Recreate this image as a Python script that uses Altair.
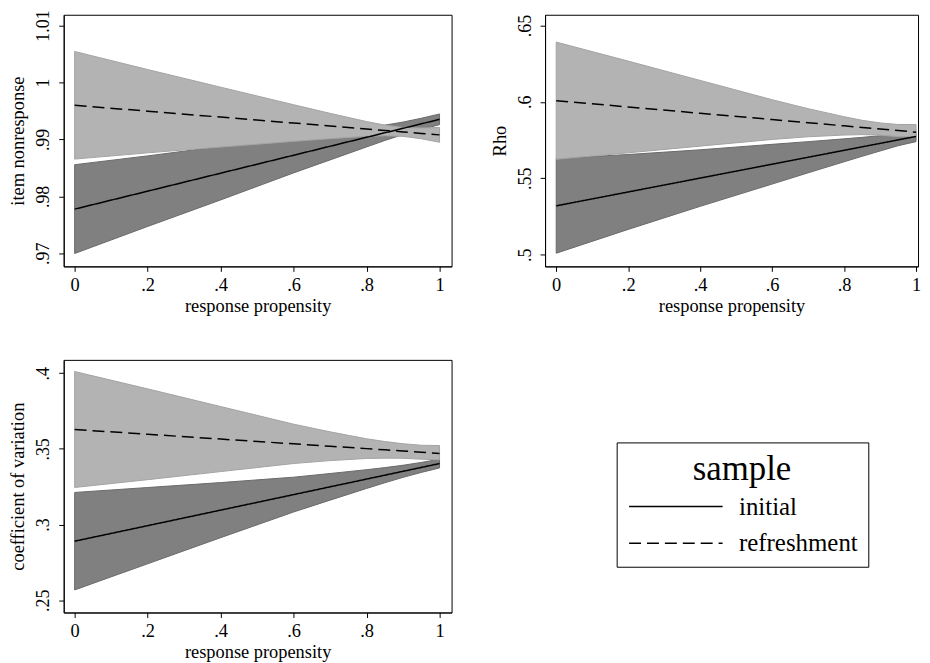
import altair as alt
import pandas as pd

# ---------------- data ----------------
x_vals = [0, 0.2, 0.4, 0.6, 0.7, 0.8, 0.85, 0.9, 0.95, 1]
samples = ["initial", "refreshment"]
x_ticks = [0, 0.2, 0.4, 0.6, 0.8, 1]

p1_title = "item nonresponse"
p1_y_ticks = [0.97, 0.98, 0.99, 1.0, 1.01]
p1_init_mean = [0.97776, 0.98091, 0.98407, 0.98722, 0.98880, 0.99038, 0.99116, 0.99195, 0.99274, 0.99353]
p1_init_lo = [0.96996, 0.97471, 0.97937, 0.98412, 0.98640, 0.98868, 0.98981, 0.99085, 0.99176, 0.99259]
p1_init_hi = [0.98556, 0.98711, 0.98877, 0.99032, 0.99120, 0.99208, 0.99251, 0.99305, 0.99372, 0.99447]
p1_ref_mean = [0.99600, 0.99496, 0.99392, 0.99288, 0.99236, 0.99184, 0.99158, 0.99132, 0.99106, 0.99080]
p1_ref_lo = [0.98655, 0.98764, 0.98866, 0.98966, 0.99014, 0.99054, 0.99064, 0.99054, 0.99012, 0.98950]
p1_ref_hi = [1.00545, 1.00228, 0.99918, 0.99610, 0.99458, 0.99314, 0.99252, 0.99210, 0.99200, 0.99210]

p2_title = "Rho"
p2_y_ticks = [0.5, 0.55, 0.6, 0.65]
p2_init_mean = [0.5320, 0.54108, 0.55016, 0.55924, 0.56378, 0.56832, 0.57059, 0.57286, 0.57513, 0.5774]
p2_init_lo = [0.5010, 0.51658, 0.53166, 0.54624, 0.55358, 0.56082, 0.56439, 0.56786, 0.57133, 0.5740]
p2_init_hi = [0.5630, 0.56558, 0.56866, 0.57224, 0.57398, 0.57582, 0.57679, 0.57786, 0.57893, 0.5810]
p2_ref_mean = [0.6008, 0.59668, 0.59256, 0.58844, 0.58638, 0.58432, 0.58329, 0.58226, 0.58123, 0.5802]
p2_ref_lo = [0.5625, 0.56668, 0.57106, 0.57544, 0.57718, 0.57832, 0.57859, 0.57826, 0.57730, 0.5772]
p2_ref_hi = [0.6391, 0.62668, 0.61406, 0.60144, 0.59558, 0.59032, 0.58799, 0.58626, 0.58523, 0.5852]

p3_title = "coefficient of variation"
p3_y_ticks = [0.25, 0.3, 0.35, 0.4]
p3_init_mean = [0.2890, 0.29926, 0.30952, 0.31978, 0.32491, 0.33004, 0.33261, 0.33517, 0.33774, 0.3403]
p3_init_lo = [0.2568, 0.27406, 0.29132, 0.30828, 0.31611, 0.32384, 0.32761, 0.33117, 0.33444, 0.3374]
p3_init_hi = [0.3212, 0.32446, 0.32772, 0.33128, 0.33371, 0.33624, 0.33761, 0.33917, 0.34104, 0.3432]
p3_ref_mean = [0.3628, 0.35964, 0.35648, 0.35332, 0.35174, 0.35016, 0.34937, 0.34858, 0.34779, 0.3470]
p3_ref_lo = [0.3245, 0.32964, 0.33498, 0.34032, 0.34224, 0.34366, 0.34387, 0.34378, 0.34319, 0.3428]
p3_ref_hi = [0.4011, 0.38964, 0.37798, 0.36632, 0.36124, 0.35666, 0.35487, 0.35338, 0.35239, 0.3522]

x_title = "response propensity"
legend_title = "sample"

FONT = "Liberation Serif"
LIGHT_FILL, LIGHT_EDGE = "#b3b3b3", "#a3a3a3"
DARK_FILL, DARK_EDGE = "#808080", "#6a6a6a"

LABEL_EXPR = "replace(format(datum.value, '.3~g'), '0.', '.')"

legend = alt.Legend(
    title=legend_title, orient="none", legendX=556, legendY=430,
    direction="vertical",
    symbolType="M-1,0H8.4", symbolSize=400, symbolStrokeWidth=1.5,
    symbolStrokeColor="black", symbolFillColor="transparent",
    labelFont=FONT, labelFontSize=25, labelColor="black", labelOffset=88,
    titleFont=FONT, titleFontSize=35, titleFontWeight="normal", titleColor="black",
    titleAnchor="middle", titlePadding=7, rowPadding=11, padding=10,
    strokeColor="black", fillColor="white",
)


def make_df(mean_i, lo_i, hi_i, mean_r, lo_r, hi_r):
    rows = []
    for k, x in enumerate(x_vals):
        rows.append({"x": x, "sample": samples[0], "mean": mean_i[k], "lo": lo_i[k], "hi": hi_i[k]})
    for k, x in enumerate(x_vals):
        rows.append({"x": x, "sample": samples[1], "mean": mean_r[k], "lo": lo_r[k], "hi": hi_r[k]})
    return pd.DataFrame(rows)


def panel(df, ytitle, yticks, ydomain, xdomain, width, height):
    xenc = alt.X("x:Q", scale=alt.Scale(domain=xdomain, nice=False, zero=False),
                 axis=alt.Axis(values=x_ticks, labelExpr=LABEL_EXPR, title=x_title))
    yaxis = alt.Axis(values=yticks, labelExpr=LABEL_EXPR, title=ytitle,
                     labelAngle=-90, labelAlign="center", labelBaseline="bottom",
                     labelFontSize=18, labelPadding=6, titlePadding=7)
    yscale = alt.Scale(domain=ydomain, nice=False, zero=False)
    base = alt.Chart(df)
    dark = base.transform_filter(alt.datum.sample == samples[0]).mark_area(
        fill=DARK_FILL, stroke=DARK_EDGE, strokeWidth=1, opacity=1
    ).encode(x=xenc, y=alt.Y("lo:Q", scale=yscale, axis=yaxis), y2="hi:Q")
    light = base.transform_filter(alt.datum.sample == samples[1]).mark_area(
        fill=LIGHT_FILL, stroke=LIGHT_EDGE, strokeWidth=1, opacity=1
    ).encode(x=xenc, y=alt.Y("lo:Q", scale=yscale, axis=yaxis), y2="hi:Q")
    lines = base.mark_line(color="black", strokeWidth=1.5).encode(
        x=xenc,
        y=alt.Y("mean:Q", scale=yscale, axis=yaxis),
        strokeDash=alt.StrokeDash("sample:N",
                                  scale=alt.Scale(domain=samples, range=[[1, 0], [12, 6]]),
                                  legend=legend),
        detail="sample:N",
    )
    return alt.layer(dark, light, lines).properties(width=width, height=height)


df1 = make_df(p1_init_mean, p1_init_lo, p1_init_hi, p1_ref_mean, p1_ref_lo, p1_ref_hi)
df2 = make_df(p2_init_mean, p2_init_lo, p2_init_hi, p2_ref_mean, p2_ref_lo, p2_ref_hi)
df3 = make_df(p3_init_mean, p3_init_lo, p3_init_hi, p3_ref_mean, p3_ref_lo, p3_ref_hi)

c1 = panel(df1, p1_title, p1_y_ticks, [0.9677, 1.0119], [-0.03, 1.033], 390, 253)
c2 = panel(df2, p2_title, p2_y_ticks, [0.4924, 0.657], [-0.031, 1.0055], 375, 253)
c3 = panel(df3, p3_title, p3_y_ticks, [0.2419, 0.4088], [-0.03, 1.033], 390, 254)

chart = alt.concat(c1, c2, c3, columns=2, spacing=94, bounds="flush").properties(
    padding={"left": 0, "right": 0, "top": -1, "bottom": 0}, background="white"
).configure(
    font=FONT
).configure_view(
    stroke="black", strokeWidth=1
).configure_axis(
    labelFont=FONT, titleFont=FONT, labelFontSize=18.5, titleFontSize=18.5,
    labelColor="black", titleColor="black", titleFontWeight="normal",
    domainColor="black", tickColor="black", tickSize=5, domainWidth=1, tickWidth=1,
    grid=False, labelPadding=4, titlePadding=3,
).configure_legend(
    labelFont=FONT, titleFont=FONT
)

chart.save("out.html", embed_options={"renderer": "svg", "actions": False})
